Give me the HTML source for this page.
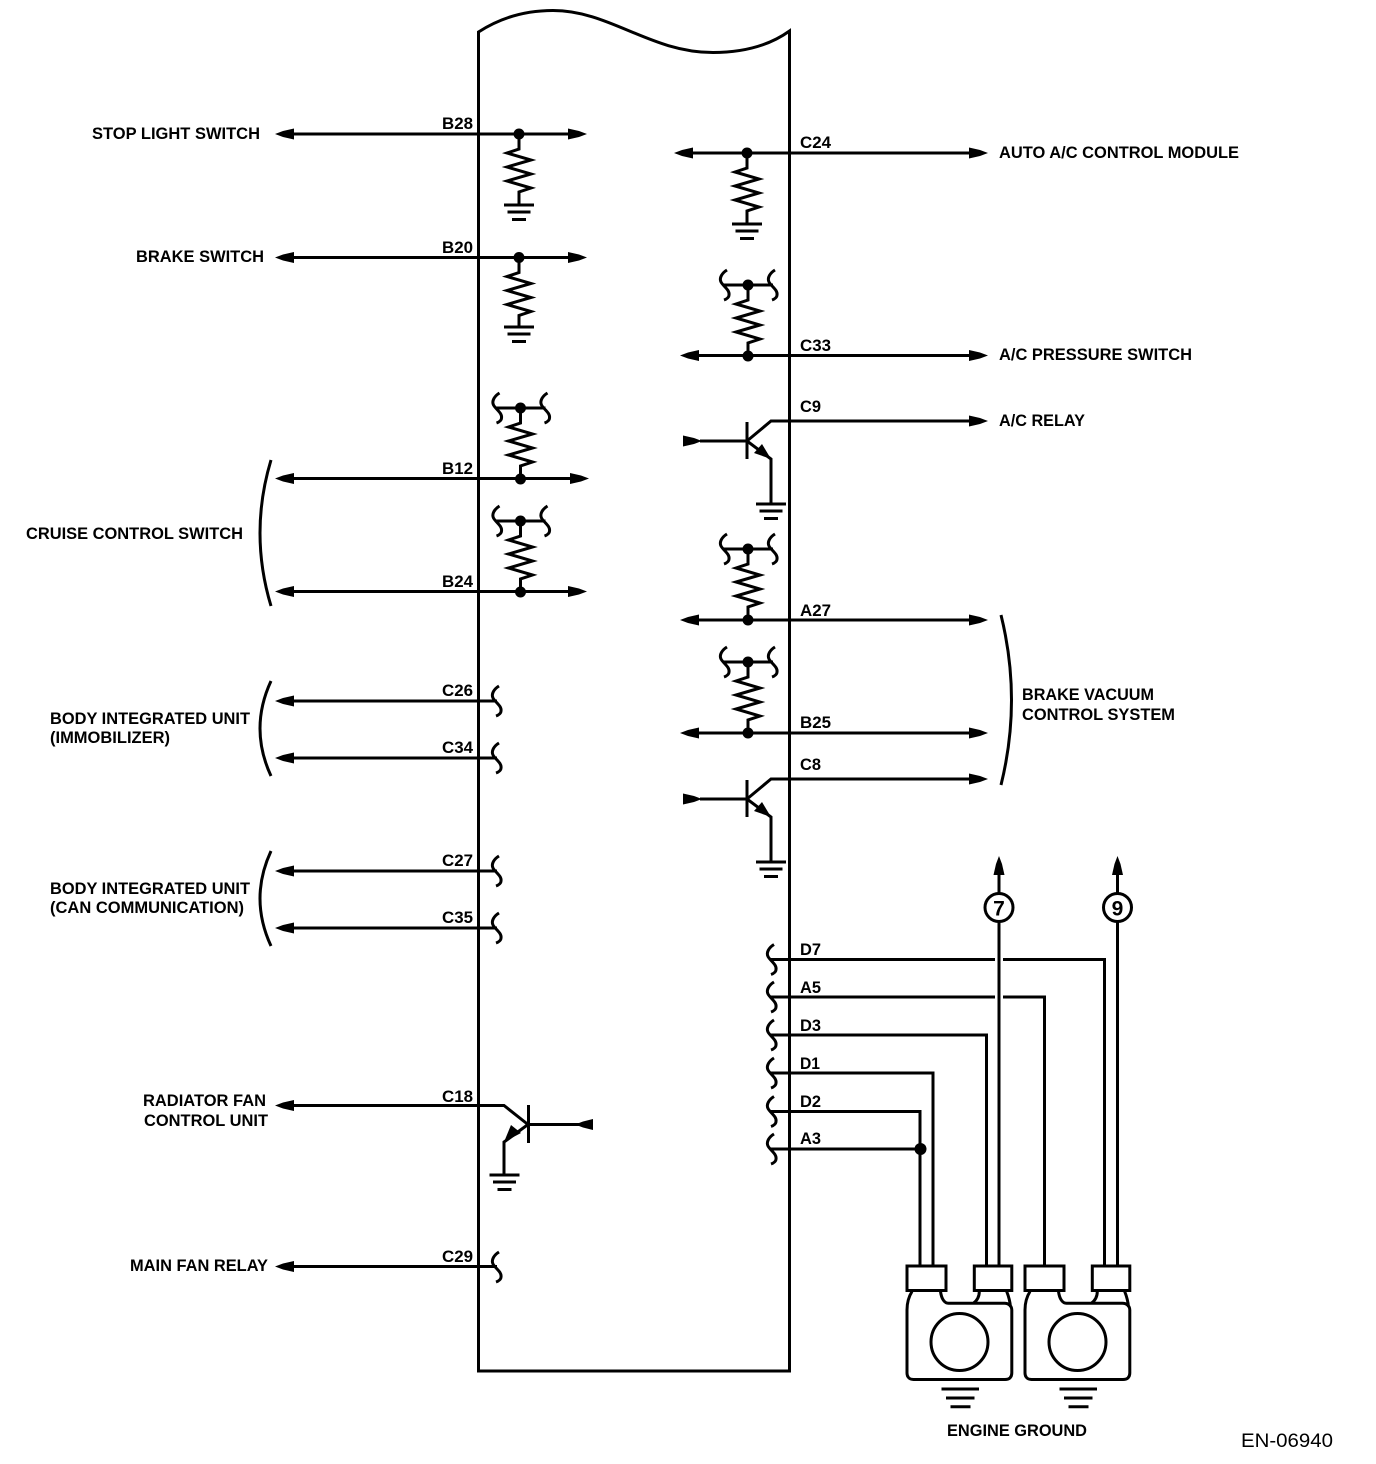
<!DOCTYPE html>
<html><head><meta charset="utf-8"><style>
html,body{margin:0;padding:0;background:#fff}
svg{display:block}
text{font-family:"Liberation Sans",sans-serif;font-size:16.5px;font-weight:bold;fill:#000}
</style></head><body>
<svg xmlns="http://www.w3.org/2000/svg" width="1376" height="1464" viewBox="0 0 1376 1464">
<defs>
<g id="zig"><path d="M0 0V15L-12 19L12 26L-12 33L12 40L-12 47L12 54L0 58V71" fill="none"/><circle cx="0" cy="0" r="5.5" fill="#000" stroke="none"/></g>
<g id="gnd"><path d="M-15 0H15M-11.500 7H11.500M-7 14.500H7" fill="none"/></g>
<g id="sq"><path d="M3 -15C-2 -12 -5 -7 -3 -3C-1 1 6 5 5 10C5 12 3 14 0 15" fill="none"/></g>
<g id="pull"><use href="#zig"/><circle cx="0" cy="71" r="5.5" fill="#000" stroke="none"/><path d="M-25 0H25" fill="none"/><use href="#sq" x="-24" y="0"/><use href="#sq" x="24" y="0"/></g>
<path id="L" d="M0 0L8 -3L19 -5.500V5.500L8 3Z" fill="#000" stroke="none"/>
<path id="R" d="M0 0L-8 -3L-19 -5.500V5.500L-8 3Z" fill="#000" stroke="none"/>
<path id="U" d="M0 0L-3 8L-5.500 19H5.500L3 8Z" fill="#000" stroke="none"/>
<g id="npn"><path d="M18 0H65M65 -19V18M65 0L89 -20H290M65 0L89 18V63" fill="none"/><path d="M89 18L72 12L80 3Z" fill="#000" stroke="none"/><use href="#R" x="20" y="0"/><use href="#gnd" x="89" y="63"/></g>
<g id="lug">
<rect x="0.500" y="0" width="39" height="24.500" fill="#fff"/>
<rect x="67.800" y="0" width="37.500" height="24.500" fill="#fff"/>
<path d="M5.500 25.500C2 31 0.500 38 0.500 44V107C0.500 111 3 113.500 7 113.500H98.500C103 113.500 105.300 111 105.300 107V44C105.300 40 102 37.300 98 37.300H42C38 37.300 35 33 34 25.500M72.800 25.500C72.800 31 70 35 66.800 37.300M100.200 25.500C102 30 103.500 35 104 41" fill="none"/>
<circle cx="53" cy="76" r="28.500" fill="none"/>
<path d="M35 123H72.500M39.500 132H68M44 140.700H64" fill="none"/>
</g>
</defs>

<g stroke="#000" stroke-width="3" fill="none">
<!-- body -->
<path d="M478.500 32C500 18 525 10.500 553 10.500C610 10.500 650 52.500 713 52.500C745 52.500 770 45 789.500 31V1371H478.500Z"/>

<!-- left wires -->
<path d="M280 134H570M280 257.500H570M280 478.500H572M280 591.500H570"/>
<path d="M280 701H497M280 758H497M280 871H497M280 928H497M280 1266.500H497"/>
<use href="#L" x="275" y="134"/><use href="#L" x="275" y="257.500"/><use href="#L" x="275" y="478.500"/><use href="#L" x="275" y="591.500"/>
<use href="#L" x="275" y="701"/><use href="#L" x="275" y="758"/><use href="#L" x="275" y="871"/><use href="#L" x="275" y="928"/><use href="#L" x="275" y="1105.500"/><use href="#L" x="275" y="1266.500"/>
<use href="#R" x="587" y="134"/><use href="#R" x="587" y="257.500"/><use href="#R" x="589" y="478.500"/><use href="#R" x="587" y="591.500"/>
<use href="#sq" x="496" y="701"/><use href="#sq" x="496" y="758"/><use href="#sq" x="496" y="871"/><use href="#sq" x="496" y="928"/><use href="#sq" x="496" y="1267"/>

<!-- left resistors -->
<use href="#zig" x="519" y="134"/><use href="#gnd" x="519" y="205"/>
<use href="#zig" x="519" y="257.500"/><use href="#gnd" x="519" y="327"/>
<use href="#pull" x="520.500" y="408"/>
<use href="#pull" x="520.500" y="521"/>

<!-- right wires -->
<path d="M680 153H972M686 355.500H972M686 620H972M686 733H972"/>
<use href="#L" x="674" y="153"/><use href="#L" x="680" y="355.500"/><use href="#L" x="680" y="620"/><use href="#L" x="680" y="733"/>
<use href="#R" x="988" y="153"/><use href="#R" x="988" y="355.500"/><use href="#R" x="988" y="421"/><use href="#R" x="988" y="620"/><use href="#R" x="988" y="733"/><use href="#R" x="988" y="779"/>
<use href="#zig" x="747" y="153"/><use href="#gnd" x="747" y="224"/>
<use href="#pull" x="748" y="285"/>
<use href="#pull" x="748" y="549"/>
<use href="#pull" x="748" y="662"/>

<!-- transistors -->
<use href="#npn" x="682" y="441"/>
<use href="#npn" x="682" y="799"/>
<path d="M280 1105.500H504L528 1124.500M528.500 1105V1143M528.500 1124.500H580M528 1124.500L504 1142V1175"/>
<path d="M504 1142L511 1125L521 1133Z" fill="#000" stroke="none"/>
<path d="M575 1124.500L583 1121.500L593 1119V1130L583 1127.500Z" fill="#000" stroke="none"/>
<use href="#gnd" x="504.500" y="1175"/>

<!-- harness wires -->
<path d="M771 959.500H995M1003 959.500H1104.500V1266"/>
<path d="M771 997H995M1003 997H1044.500V1266"/>
<path d="M771 1035H986.500V1266"/>
<path d="M771 1073H933V1266"/>
<path d="M771 1111.500H920V1266"/>
<path d="M771 1149H920"/>
<circle cx="920.500" cy="1149" r="6" fill="#000" stroke="none"/>
<use href="#sq" x="771" y="959.500"/><use href="#sq" x="771" y="997"/><use href="#sq" x="771" y="1035"/><use href="#sq" x="771" y="1073"/><use href="#sq" x="771" y="1111.500"/><use href="#sq" x="771" y="1149"/>
<path d="M999 870V893.500M999 921.500V1266M1117.500 870V893.500M1117.500 921.500V1266"/>
<use href="#U" x="999" y="856"/><use href="#U" x="1117.500" y="856"/>
<circle cx="999" cy="907.500" r="14"/><circle cx="1117.500" cy="907.500" r="14"/>

<!-- lugs -->
<use href="#lug" x="906.500" y="1266"/>
<use href="#lug" x="1024.500" y="1266"/>

<!-- braces -->
<path d="M271 460Q249 533 271 606"/>
<path d="M271 681Q249 728.500 271 776"/>
<path d="M271 851Q249 898.500 271 946"/>
<path d="M1001 615Q1022 700 1001 785"/>
</g>

<!-- labels -->
<g lengthAdjust="spacingAndGlyphs">
<text lengthAdjust="spacingAndGlyphs" x="92" y="139" textLength="168">STOP LIGHT SWITCH</text>
<text lengthAdjust="spacingAndGlyphs" x="136" y="262" textLength="128">BRAKE SWITCH</text>
<text lengthAdjust="spacingAndGlyphs" x="26" y="539" textLength="217">CRUISE CONTROL SWITCH</text>
<text lengthAdjust="spacingAndGlyphs" x="50" y="724" textLength="200">BODY INTEGRATED UNIT</text>
<text lengthAdjust="spacingAndGlyphs" x="50" y="743" textLength="120">(IMMOBILIZER)</text>
<text lengthAdjust="spacingAndGlyphs" x="50" y="894" textLength="200">BODY INTEGRATED UNIT</text>
<text lengthAdjust="spacingAndGlyphs" x="50" y="913" textLength="194">(CAN COMMUNICATION)</text>
<text lengthAdjust="spacingAndGlyphs" x="143" y="1106" textLength="123">RADIATOR FAN</text>
<text lengthAdjust="spacingAndGlyphs" x="144" y="1126" textLength="124">CONTROL UNIT</text>
<text lengthAdjust="spacingAndGlyphs" x="130" y="1271" textLength="138">MAIN FAN RELAY</text>
<text lengthAdjust="spacingAndGlyphs" x="999" y="158" textLength="240">AUTO A/C CONTROL MODULE</text>
<text lengthAdjust="spacingAndGlyphs" x="999" y="360" textLength="193">A/C PRESSURE SWITCH</text>
<text lengthAdjust="spacingAndGlyphs" x="999" y="426" textLength="86">A/C RELAY</text>
<text lengthAdjust="spacingAndGlyphs" x="1022" y="700" textLength="132">BRAKE VACUUM</text>
<text lengthAdjust="spacingAndGlyphs" x="1022" y="720" textLength="153">CONTROL SYSTEM</text>
<text lengthAdjust="spacingAndGlyphs" x="947" y="1436" textLength="140">ENGINE GROUND</text>
<text lengthAdjust="spacingAndGlyphs" x="1241" y="1447" textLength="92" style="font-weight:normal;font-size:19px">EN-06940</text>

<text lengthAdjust="spacingAndGlyphs" x="442" y="129" textLength="31">B28</text>
<text lengthAdjust="spacingAndGlyphs" x="442" y="253" textLength="31">B20</text>
<text lengthAdjust="spacingAndGlyphs" x="442" y="474" textLength="31">B12</text>
<text lengthAdjust="spacingAndGlyphs" x="442" y="587" textLength="31">B24</text>
<text lengthAdjust="spacingAndGlyphs" x="442" y="696" textLength="31">C26</text>
<text lengthAdjust="spacingAndGlyphs" x="442" y="753" textLength="31">C34</text>
<text lengthAdjust="spacingAndGlyphs" x="442" y="866" textLength="31">C27</text>
<text lengthAdjust="spacingAndGlyphs" x="442" y="923" textLength="31">C35</text>
<text lengthAdjust="spacingAndGlyphs" x="442" y="1102" textLength="31">C18</text>
<text lengthAdjust="spacingAndGlyphs" x="442" y="1262" textLength="31">C29</text>

<text lengthAdjust="spacingAndGlyphs" x="800" y="148" textLength="31">C24</text>
<text lengthAdjust="spacingAndGlyphs" x="800" y="351" textLength="31">C33</text>
<text lengthAdjust="spacingAndGlyphs" x="800" y="412" textLength="21">C9</text>
<text lengthAdjust="spacingAndGlyphs" x="800" y="616" textLength="31">A27</text>
<text lengthAdjust="spacingAndGlyphs" x="800" y="728" textLength="31">B25</text>
<text lengthAdjust="spacingAndGlyphs" x="800" y="770" textLength="21">C8</text>
<text lengthAdjust="spacingAndGlyphs" x="800" y="955" textLength="21">D7</text>
<text lengthAdjust="spacingAndGlyphs" x="800" y="993" textLength="21">A5</text>
<text lengthAdjust="spacingAndGlyphs" x="800" y="1031" textLength="21">D3</text>
<text lengthAdjust="spacingAndGlyphs" x="800" y="1069" textLength="20">D1</text>
<text lengthAdjust="spacingAndGlyphs" x="800" y="1107" textLength="21">D2</text>
<text lengthAdjust="spacingAndGlyphs" x="800" y="1144" textLength="21">A3</text>

<text x="999" y="915.500" text-anchor="middle" style="font-size:21px">7</text>
<text x="1117.500" y="915.500" text-anchor="middle" style="font-size:21px">9</text>
</g>
</svg>
</body></html>
